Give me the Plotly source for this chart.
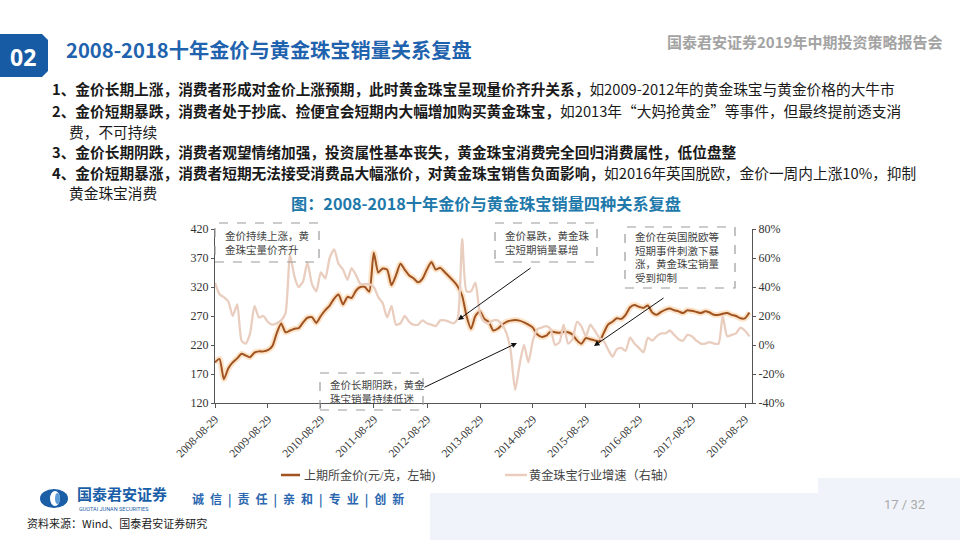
import pandas as pd
import plotly.graph_objects as go

# ---------------- data ----------------
start_date = "2008-08-29"
gold_price = [190,196,161,180,190,197,205,202,199,207,
              209,209,211,218,240,257,242,245,248,249,
              259,267,268,258,270,280,288,300,307,290,
              303,301,314,320,320,312,379,345,352,350,
              323,340,360,350,340,335,328,334,350,363,
              350,353,346,338,330,321,305,270,248,270,
              278,265,260,245,248,255,260,262,263,262,
              259,255,250,238,234,236,243,242,241,243,
              242,238,228,222,232,230,228,226,240,255,
              260,266,265,272,285,289,286,284,288,276,
              272,277,281,283,280,278,275,280,279,277,
              275,278,276,272,272,274,275,272,270,266,
              266,276]
jewelry_growth = [43,35,33,30,20,28,3,1,8,27,
                  19,20,16,14,15,17,22,62,47,40,
                  44,57,42,37,50,46,60,66,56,52,
                  45,53,48,42,42,42,40,33,29,19,
                  27,14,15,20,16,14,14,17,15,14,
                  13,17,17,16,15,18,73,37,37,43,
                  22,16,15,17,17,14,8,-4,-31,-14,
                  0,-12,3,11,12,13,11,0,2,14,
                  1,4,16,13,6,14,10,5,3,-3,
                  -8,-3,-2,-4,5,1,-2,-5,5,3,
                  6,8,8,10,7,4,3,7,6,3,
                  1,1,2,1,1,20,6,7,8,12,
                  10,6]
tick_dates = ["2008-08-29","2009-08-29","2010-08-29","2011-08-29","2012-08-29",
              "2013-08-29","2014-08-29","2015-08-29","2016-08-29","2017-08-29","2018-08-29"]
left_ticks = [120,170,220,270,320,370,420]
right_ticks = [-40,-20,0,20,40,60,80]

dates = pd.date_range(start_date, periods=len(gold_price), freq=pd.DateOffset(months=1))

W, H = 960, 540
def X(p): return p / W
def Y(p): return 1 - p / H

SERIF = "Liberation Serif, Noto Sans CJK SC"
SANS = "Noto Sans CJK SC, Microsoft YaHei, sans-serif"

fig = go.Figure()
fig.add_trace(go.Scatter(x=dates, y=jewelry_growth, yaxis="y2", mode="lines",
                         line=dict(color="#E9CDBF", width=2.3, shape="spline", smoothing=0.6),
                         showlegend=False, hoverinfo="skip"))
fig.add_trace(go.Scatter(x=dates, y=gold_price, mode="lines",
                         line=dict(color="rgba(248,196,140,0.45)", width=6, shape="spline", smoothing=0.6),
                         showlegend=False, hoverinfo="skip"))
fig.add_trace(go.Scatter(x=dates, y=gold_price, mode="lines",
                         line=dict(color="#A0521F", width=2, shape="spline", smoothing=0.6),
                         showlegend=False))

axis_col = "#555555"
fig.update_layout(
    width=W, height=H,
    margin=dict(l=0, r=0, t=0, b=0, pad=0, autoexpand=False),
    paper_bgcolor="#FFFFFF", plot_bgcolor="rgba(0,0,0,0)",
    showlegend=False,
    xaxis=dict(type="date", domain=[X(215), X(752)], range=["2008-08-29", "2018-10-16"],
               tickvals=tick_dates, ticktext=tick_dates, tickangle=-45, automargin=False,
               tickfont=dict(family=SERIF, size=11.5, color="#333"),
               showline=True, linecolor=axis_col, linewidth=1, ticks="outside", ticklen=4,
               tickcolor=axis_col, showgrid=False, zeroline=False),
    yaxis=dict(domain=[1 - 403 / H, 1 - 229 / H], range=[120, 420], tickvals=left_ticks,
               automargin=False,
               tickfont=dict(family=SERIF, size=12, color="#333"),
               showline=True, linecolor=axis_col, linewidth=1, ticks="outside", ticklen=3,
               tickcolor=axis_col, showgrid=False, zeroline=False),
    yaxis2=dict(overlaying="y", side="right", range=[-40, 80], tickvals=right_ticks,
                ticktext=[f"{v}%" for v in right_ticks], automargin=False,
                tickfont=dict(family=SERIF, size=12, color="#333"),
                showline=True, linecolor=axis_col, linewidth=1, ticks="outside", ticklen=3,
                tickcolor=axis_col, showgrid=False, zeroline=False),
)

shapes = []
annotations = []

def label(x, y, text, size, color, family=SANS, xanchor="left", align="left"):
    annotations.append(dict(x=X(x), y=Y(y), xref="paper", yref="paper", xanchor=xanchor,
                            yanchor="middle", align=align, text=text, showarrow=False,
                            font=dict(family=family, size=size, color=color)))

# background tints
shapes.append(dict(type="rect", xref="paper", yref="paper", x0=X(430), x1=X(960), y0=Y(540), y1=Y(478),
                   fillcolor="#F0F4FA", line=dict(width=0), layer="below"))
shapes.append(dict(type="rect", xref="paper", yref="paper", x0=X(172), x1=X(818), y0=Y(493), y1=Y(192),
                   fillcolor="#FFFFFF", line=dict(width=0), layer="below"))

# badge "02"
def pth(pts):
    return "M " + " L ".join(f"{X(a):.5f},{Y(b):.5f}" for a, b in pts) + " Z"
shapes.append(dict(type="path", xref="paper", yref="paper",
                   path=pth([(0,34),(42,34),(48,40),(48,71),(42,77),(0,77)]),
                   fillcolor="#175BA5", line=dict(width=0)))
label(23, 57, "<b>02</b>", 23, "white", family="Open Sans, sans-serif", xanchor="center")
label(64, 50, "<b>2008-2018十年金价与黄金珠宝销量关系复盘</b>", 20.2, "#1F63AE")
label(944, 42, "<b>国泰君安证券2019年中期投资策略报告会</b>", 15, "#A3A3A3", xanchor="right")

# bullet text
lines = [
    (50, 88, "<b>1、金价长期上涨，消费者形成对金价上涨预期，此时黄金珠宝呈现量价齐升关系，</b>如2009-2012年的黄金珠宝与黄金价格的大牛市"),
    (50, 110, "<b>2、金价短期暴跌，消费者处于抄底、捡便宜会短期内大幅增加购买黄金珠宝，</b>如2013年“大妈抢黄金”等事件，但最终提前透支消"),
    (67, 131, "费，不可持续"),
    (50, 152, "<b>3、金价长期阴跌，消费者观望情绪加强，投资属性基本丧失，黄金珠宝消费完全回归消费属性，低位盘整</b>"),
    (50, 172, "<b>4、金价短期暴涨，消费者短期无法接受消费品大幅涨价，对黄金珠宝销售负面影响，</b>如2016年英国脱欧，金价一周内上涨10%，抑制"),
    (67, 192, "黄金珠宝消费"),
]
for lx, ly, t in lines:
    label(lx, ly, t, 14.7, "#1A1A1A")

# chart title
label(486, 203, "<b>图：2008-2018十年金价与黄金珠宝销量四种关系复盘</b>", 16.2, "#2079AA", xanchor="center")

# annotation boxes
boxes = [
    (215, 319, 223, 262, "金价持续上涨，黄<br>金珠宝量价齐升"),
    (320, 423, 373, 410, "金价长期阴跌，黄金<br>珠宝销量持续低迷"),
    (495, 597, 223, 262, "金价暴跌，黄金珠<br>宝短期销量暴增"),
    (625, 735, 227, 288, "金价在英国脱欧等<br>短期事件刺激下暴<br>涨，黄金珠宝销量<br>受到抑制"),
]
for x0, x1, y0, y1, t in boxes:
    shapes.append(dict(type="rect", xref="paper", yref="paper", x0=X(x0), x1=X(x1), y0=Y(y1), y1=Y(y0),
                       line=dict(color="#9A9A9A", width=1.2, dash="dash"), fillcolor="rgba(0,0,0,0)"))
    label(x0 + 8, (y0 + y1) / 2, t, 10.5, "#444", family=SERIF)

# arrows (head, tail)
arrows = [((458, 320), (532, 267)), ((517, 343), (423, 388)), ((594, 346), (665, 297))]
for (hx, hy), (tx, ty) in arrows:
    annotations.append(dict(x=X(hx), y=Y(hy), xref="paper", yref="paper", ax=tx - hx, ay=ty - hy,
                            text="", showarrow=True, arrowhead=2, arrowsize=1.1, arrowwidth=1,
                            arrowcolor="#111"))

# legend
shapes.append(dict(type="line", xref="paper", yref="paper", x0=X(281), x1=X(300), y0=Y(475), y1=Y(475),
                   line=dict(color="#A0521F", width=2.5)))
label(302, 475, "上期所金价(元/克，左轴)", 12, "#444", family=SERIF)
shapes.append(dict(type="line", xref="paper", yref="paper", x0=X(505), x1=X(527), y0=Y(475), y1=Y(475),
                   line=dict(color="#EBCDBD", width=2.5)))
label(527, 475, "黄金珠宝行业增速（右轴）", 12.2, "#444", family=SERIF)

# footer logo
shapes.append(dict(type="circle", xref="paper", yref="paper", x0=X(40), x1=X(68), y0=Y(508), y1=Y(489),
                   fillcolor="#1B5EA8", line=dict(width=0)))
shapes.append(dict(type="circle", xref="paper", yref="paper", x0=X(50), x1=X(60), y0=Y(506), y1=Y(491),
                   fillcolor="#FFFFFF", line=dict(width=0)))
shapes.append(dict(type="circle", xref="paper", yref="paper", x0=X(55), x1=X(60), y0=Y(504), y1=Y(493),
                   fillcolor="#5B9BD8", line=dict(width=0)))
label(75, 493, "<b>国泰君安证券</b>", 15, "#1B5EA8")
label(77, 508.5, "GUOTAI JUNAN SECURITIES", 5.5, "#1B5EA8", family="Roboto, sans-serif")
label(190, 499, "<b>诚\u2002信\u2002|\u2002责\u2002任\u2002|\u2002亲\u2002和\u2002|\u2002专\u2002业\u2002|\u2002创\u2002新</b>",
      12, "#2A67B0")
label(25, 523, "资料来源：Wind、国泰君安证券研究", 11, "#222")
label(904, 504, "17 / 32", 13, "#AAAAAA", family="Roboto, sans-serif", xanchor="center")

fig.update_layout(shapes=shapes, annotations=annotations)
fig.write_html("out.html", config={"displayModeBar": False},
               post_script="document.body.style.margin='0';document.body.style.overflow='hidden';")
